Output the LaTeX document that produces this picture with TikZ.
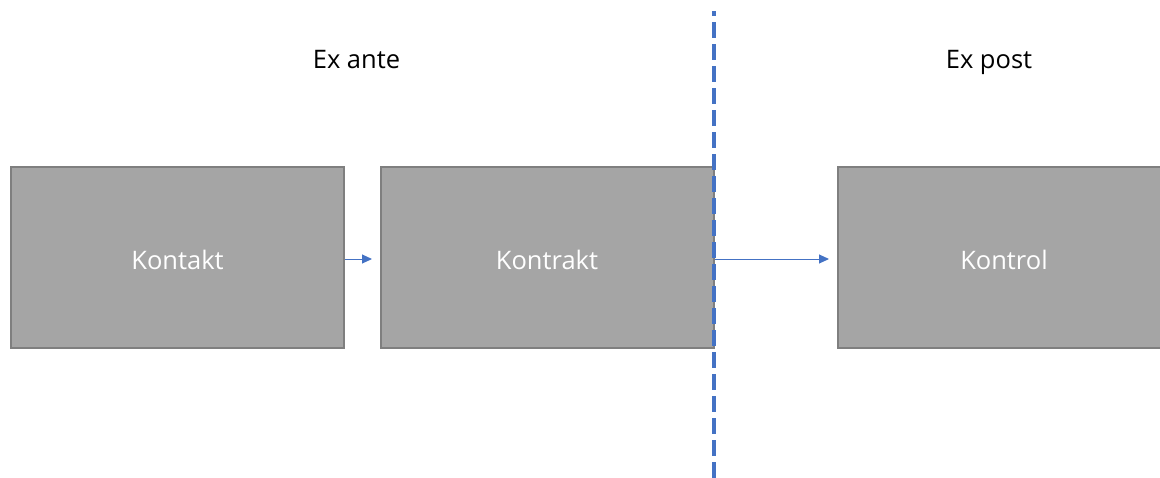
\documentclass[tikz,border=0pt]{standalone}
\usepackage{fontspec}
\setmainfont{Open Sans}
\usetikzlibrary{arrows.meta}
\definecolor{boxfill}{HTML}{A5A5A5}
\definecolor{boxline}{HTML}{7F7F7F}
\definecolor{accent}{HTML}{4472C4}
\tikzset{
  stage/.style={draw=boxline, line width=2pt, fill=boxfill, minimum width=333pt,
    minimum height=181pt, inner sep=0pt},
  label/.style={text=white, font=\fontsize{25.5}{30}\selectfont, inner sep=0pt, anchor=base},
  phase/.style={text=black, font=\fontsize{25.5}{30}\selectfont, inner sep=0pt, anchor=base},
  flow/.style={draw=accent, line width=1pt, -{Triangle[length=10pt,width=9pt]}},
  divider/.style={draw=accent, line width=4.5pt, dash pattern=on 16pt off 6pt, dash phase=11pt}
}
\begin{document}
\begin{tikzpicture}[x=1pt,y=-1pt]
  \useasboundingbox (0,0) rectangle (1160,477);
  \begin{scope}
    \clip (0,0) rectangle (1160,477);
    \node[stage] (kontakt) at (177.5,257.5) {};
    \node[stage] (kontrakt) at (547,257.5) {};
    \node[stage] (kontrol) at (1004.5,257.5) {};
  \end{scope}
  \node[label] (kontakttext) at (177.5,269) {Kontakt};
  \node[label] (kontrakttext) at (547,269) {Kontrakt};
  \node[label] (kontroltext) at (1004,269) {Kontrol};
  \node[phase] (exante) at (356.5,68) {Ex ante};
  \node[phase] (expost) at (989,68) {Ex post};
  \coordinate (divtop) at (714,11);
  \coordinate (divbot) at (714,480);
  \draw[divider] (divtop) -- (divbot);
  \draw[flow] ([yshift=-1.5pt]kontakt.east) -- ([xshift=27pt,yshift=-1.5pt]kontakt.east);
  \draw[flow] ([yshift=-1.5pt]kontrakt.east) -- ([xshift=-8pt,yshift=-1.5pt]kontrol.west);
\end{tikzpicture}
\end{document}
